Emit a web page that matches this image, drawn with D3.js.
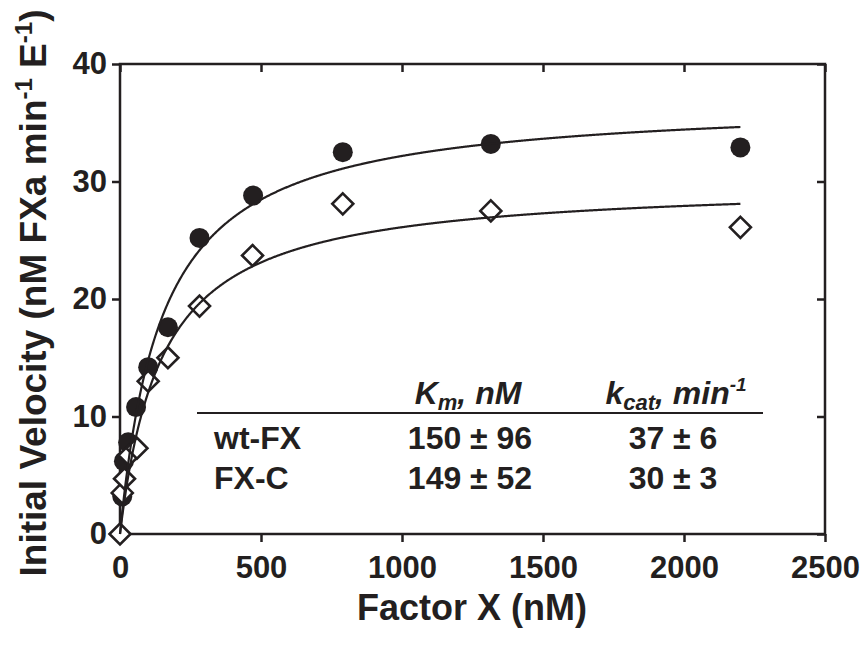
<!DOCTYPE html>
<html><head><meta charset="utf-8">
<script src="https://cdn.jsdelivr.net/npm/d3@7"></script>
<style>body{margin:0;background:#fff}svg{display:block}text{font-family:"Liberation Sans",Arial,sans-serif;font-weight:bold;fill:#231f20}</style>
</head><body>
<script>
// data
const wtX = [8, 14, 29, 57, 100, 170, 282, 472, 790, 1315, 2200];
const wtY = [3.2, 6.2, 7.8, 10.8, 14.2, 17.6, 25.2, 28.8, 32.5, 33.2, 32.9];
const fxcX = [0, 8, 16, 32, 60, 100, 170, 282, 470, 790, 1315, 2200];
const fxcY = [0, 3.5, 4.7, 6.7, 7.3, 13.0, 15.0, 19.4, 23.7, 28.1, 27.5, 26.1];
const seriesNames = ["wt-FX", "FX-C"];
const kmVals = [150, 149];
const kmErr = [96, 52];
const kcatVals = [37, 30];
const kcatErr = [6, 3];
const xTicks = [0, 500, 1000, 1500, 2000, 2500];
const yTicks = [0, 10, 20, 30, 40];
const fitMaxX = 2200;

const W = 868, H = 648;
const ink = "#231f20";
const svg = d3.select("body").append("svg").attr("width", W).attr("height", H);
const x = d3.scaleLinear().domain([0, 2500]).range([120, 825]);
const y = d3.scaleLinear().domain([0, 40]).range([534, 64]);

function styleAxis(g, fs) {
  g.select(".domain").remove();
  g.selectAll(".tick line").attr("stroke", ink).attr("stroke-width", 2.5);
  g.selectAll(".tick text").style("font-size", fs + "px").attr("fill", ink);
}
// bottom axis
const gb = svg.append("g").attr("transform", `translate(0,${y(0)})`)
  .call(d3.axisBottom(x).tickValues(xTicks).tickSize(8).tickPadding(14).tickFormat(d3.format("d")));
styleAxis(gb, 31);
// top ticks (inward)
const gt = svg.append("g").attr("transform", `translate(0,${y(40)})`)
  .call(d3.axisBottom(x).tickValues(xTicks).tickSize(8).tickFormat(""));
styleAxis(gt, 31);
// left axis
const gl = svg.append("g").attr("transform", `translate(${x(0)},0)`)
  .call(d3.axisLeft(y).tickValues(yTicks).tickSize(8).tickPadding(5).tickFormat(d3.format("d")));
styleAxis(gl, 31);
// right ticks (inward)
const gr = svg.append("g").attr("transform", `translate(${x(2500)},0)`)
  .call(d3.axisLeft(y).tickValues(yTicks).tickSize(8).tickFormat(""));
styleAxis(gr, 31);
// frame
svg.append("rect").attr("x", x(0)).attr("y", y(40)).attr("width", x(2500) - x(0)).attr("height", y(0) - y(40))
  .attr("fill", "none").attr("stroke", ink).attr("stroke-width", 2.5);

// markers
const pts1 = wtX.map((d, i) => [d, wtY[i]]);
const pts2 = fxcX.map((d, i) => [d, fxcY[i]]);
svg.append("g").selectAll("circle").data(pts1).join("circle")
  .attr("cx", d => x(d[0])).attr("cy", d => y(d[1])).attr("r", 10).attr("fill", ink);
svg.append("g").selectAll("path").data(pts2).join("path")
  .attr("transform", d => `translate(${x(d[0])},${y(d[1])})`)
  .attr("d", "M0,-10.5L10.5,0L0,10.5L-10.5,0Z")
  .attr("fill", "#fff").attr("stroke", ink).attr("stroke-width", 2.6);

// Michaelis-Menten fit curves from the tabulated parameters
const line = d3.line().x(d => x(d[0])).y(d => y(d[1]));
kcatVals.forEach((vmax, i) => {
  const km = kmVals[i];
  const xs = d3.range(0, fitMaxX + 1, 2);
  svg.append("path").datum(xs.map(s => [s, vmax * s / (km + s)]))
    .attr("d", line).attr("fill", "none").attr("stroke", ink).attr("stroke-width", 2.2);
});

// axis titles
svg.append("text").attr("x", 472).attr("y", 620).attr("text-anchor", "middle")
  .style("font-size", "36px").text("Factor X (nM)");
const yt = svg.append("text").attr("transform", "translate(46,293) rotate(-90)").attr("text-anchor", "middle")
  .style("font-size", "37px");
yt.append("tspan").text("Initial Velocity (nM FXa min");
yt.append("tspan").attr("dy", -14).style("font-size", "24px").text("-1");
yt.append("tspan").attr("dy", 14).text(" E");
yt.append("tspan").attr("dy", -14).style("font-size", "24px").text("-1");
yt.append("tspan").attr("dy", 14).text(")");

// table
const colKm = 470, colKcat = 673;
svg.append("line").attr("x1", 197).attr("x2", 763).attr("y1", 413).attr("y2", 413)
  .attr("stroke", ink).attr("stroke-width", 2.2);
const h1 = svg.append("text").attr("x", 468).attr("y", 404).attr("text-anchor", "middle")
  .style("font-size", "32px").style("font-style", "italic");
h1.append("tspan").text("K");
h1.append("tspan").attr("dy", 6).style("font-size", "22px").text("m");
h1.append("tspan").attr("dy", -6).text(", nM");
const h2 = svg.append("text").attr("x", 676).attr("y", 404).attr("text-anchor", "middle")
  .style("font-size", "32px").style("font-style", "italic");
h2.append("tspan").text("k");
h2.append("tspan").attr("dy", 6).style("font-size", "22px").text("cat");
h2.append("tspan").attr("dy", -6).text(", min");
h2.append("tspan").attr("dy", -13).style("font-size", "19px").text("-1");
const rowY = [449, 489];
seriesNames.forEach((n, i) => {
  svg.append("text").attr("x", 214).attr("y", rowY[i]).style("font-size", "32px").text(n);
  svg.append("text").attr("x", colKm).attr("y", rowY[i]).attr("text-anchor", "middle")
    .style("font-size", "32px").text(`${kmVals[i]} ± ${kmErr[i]}`);
  svg.append("text").attr("x", colKcat).attr("y", rowY[i]).attr("text-anchor", "middle")
    .style("font-size", "32px").text(`${kcatVals[i]} ± ${kcatErr[i]}`);
});
</script>
</body></html>
